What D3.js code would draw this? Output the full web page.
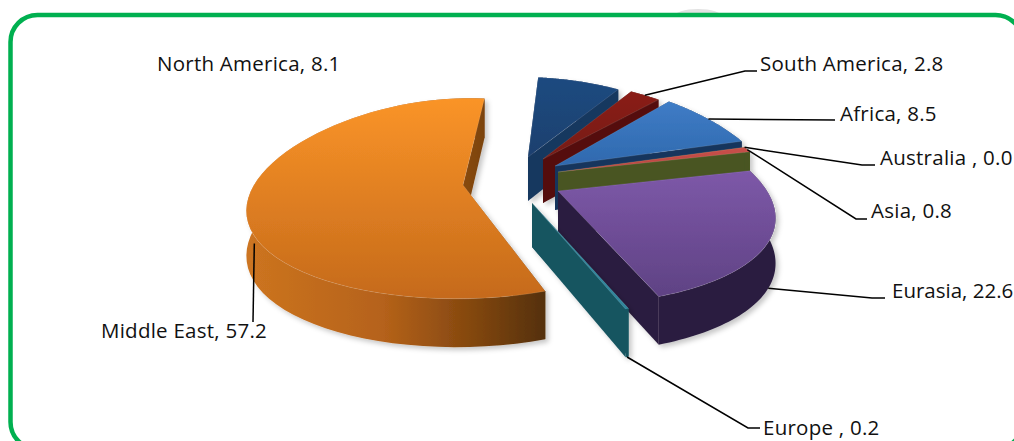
<!DOCTYPE html>
<html>
<head>
<meta charset="utf-8">
<script src="https://cdn.jsdelivr.net/npm/d3@7"></script>
<style>
  html, body { margin: 0; padding: 0; background: #fff; overflow: hidden; }
  text { font-family: "Open Sans", sans-serif; font-size: 20.5px; letter-spacing: 0.25px; fill: #111; white-space: pre; }
</style>
</head>
<body>
<svg id="chart" width="1014" height="441"></svg>
<script>
var categories = ['North America', 'South America', 'Africa', 'Australia ', 'Asia', 'Eurasia', 'Europe ', 'Middle East'];
var values = [8.1, 2.8, 8.5, 0.0, 0.8, 22.6, 0.2, 57.2];

// fake 3d settings
var R = 209, squash = 0.48, perspX = 0.25, perspY = 0.134, depth = 44;
var vanishX = 500, vanishPull = 0.7;
var firstAngle = 5.5 * Math.PI / 180;

// where each exploded slice has its tip, and how it is painted
var sliceStyle = {
  'North America': {tip: [528, 157], ys: 0.92, top: ['#1e4a80', '#1c406e'], wall: '#17375e'},
  'South America': {tip: [543, 159], ys: 0.92, top: ['#8a1e16', '#761913'], wall: '#541110'},
  'Africa':        {tip: [555, 166], ys: 1, top: ['#3f7cc6', '#2f69ae'], wall: '#17365d'},
  'Australia ':    {tip: [558, 172], ys: 1, top: ['#c0504d', '#c0504d'], wall: '#4f6228'},
  'Asia':          {tip: [558, 172], ys: 1, top: ['#c8504a', '#b8453f'], wall: '#485520'},
  'Eurasia':       {tip: [558, 191], ys: 1, top: ['#7d58a8', '#5f4284'], wall: '#2c1e40'},
  'Europe ':       {tip: [532, 203], ys: 1, top: ['#31859c', '#31859c'], wall: '#175561'},
  'Middle East':   {tip: [463, 185], ys: 1, top: ['#fa9428', '#c56a1b'], wall: 'url(#meWall)'}
};

// label position, elbow (optional), and where the leader leaves the slice
var labelPos = {
  'North America': {x: 157, y: 71},
  'South America': {x: 760, y: 71, end: [757, 71], elbow: [745, 71]},
  'Africa':        {x: 840, y: 121, end: [835, 120]},
  'Australia ':    {x: 880, y: 165, end: [875, 165], elbow: [862, 165]},
  'Asia':          {x: 871, y: 218, end: [867, 219], elbow: [856, 219]},
  'Eurasia':       {x: 892, y: 298, end: [885, 298], elbow: [872, 298], onWall: true, tight: true},
  'Europe ':       {x: 763, y: 435, end: [760, 428], elbow: [748, 428], onWall: true},
  'Middle East':   {x: 101, y: 338, end: [253, 322], onWall: true, nudge: [6, 1]}
};

var svg = d3.select('#chart');
var defs = svg.append('defs');

function project(tip, angle, rr, ys) {
  var X = Math.sin(angle) * rr, Y = -Math.cos(angle) * rr;
  var k = 1 + perspX * Y, ky = 1 + perspY * Y;
  var pull = (tip[0] - vanishX) * (k - 1) * vanishPull;
  return [tip[0] + X * R * k + pull, tip[1] + Y * R * squash * ky * ys];
}
function drop(p, Y) {
  return [p[0], p[1] + depth * (1 + 0.1 * Y)];
}

var pie = d3.pie().sort(null).value(function(d) { return d; })
  .startAngle(firstAngle).endAngle(firstAngle + 2 * Math.PI);
var arcs = pie(values);
var line = d3.line();

function rimAngles(a) {
  return d3.range(0, 61).map(function(i) { return a.startAngle + (a.endAngle - a.startAngle) * i / 60; });
}

categories.forEach(function(name, i) {
  var st = sliceStyle[name];
  var g = defs.append('linearGradient').attr('id', 'top' + i)
    .attr('x1', 0).attr('y1', 0).attr('x2', 0).attr('y2', 1);
  g.append('stop').attr('offset', '0%').attr('stop-color', st.top[0]);
  g.append('stop').attr('offset', '100%').attr('stop-color', st.top[1]);
});

var meWall = defs.append('linearGradient').attr('id', 'meWall')
  .attr('gradientUnits', 'userSpaceOnUse')
  .attr('x1', 250).attr('y1', 0).attr('x2', 546).attr('y2', 0);
[['0%', '#cc7420'], ['45%', '#b5621a'], ['75%', '#83470f'], ['100%', '#54300a']].forEach(function(s) {
  meWall.append('stop').attr('offset', s[0]).attr('stop-color', s[1]);
});

var shadow = defs.append('filter').attr('id', 'soft')
  .attr('x', '-10%').attr('y', '-10%').attr('width', '125%').attr('height', '125%');
shadow.append('feDropShadow').attr('dx', 3).attr('dy', 3).attr('stdDeviation', 2.5)
  .attr('flood-color', '#000').attr('flood-opacity', 0.22);

// faint smudge poking out above the frame
svg.append('ellipse')
  .attr('cx', 698).attr('cy', 17).attr('rx', 24).attr('ry', 8)
  .attr('fill', '#e2e2e2');

// frame
svg.append('rect')
  .attr('x', 10.5).attr('y', 15).attr('width', 1012).attr('height', 434)
  .attr('rx', 27).attr('ry', 27)
  .attr('fill', '#fff').attr('stroke', '#00b050').attr('stroke-width', 4.5);

// slices, painted back to front in pie order
var slices = svg.selectAll('g.slice').data(arcs).enter().append('g')
  .attr('class', 'slice')
  .attr('filter', 'url(#soft)');

slices.each(function(a, i) {
  if (a.value === 0) return;
  var st = sliceStyle[categories[i]];
  var node = d3.select(this);
  var angles = rimAngles(a);
  var rim = angles.map(function(t) { return project(st.tip, t, 1, st.ys); });
  var rimLow = angles.map(function(t, j) { return drop(rim[j], -Math.cos(t)); });
  var tipLow = drop(st.tip, 0);

  // radial walls
  [0, rim.length - 1].forEach(function(j) {
    node.append('path')
      .attr('d', line([st.tip, rim[j], rimLow[j], tipLow]) + 'Z')
      .attr('fill', st.wall);
  });
  // outer wall
  node.append('path')
    .attr('d', line(rim.concat(rimLow.slice().reverse())) + 'Z')
    .attr('fill', st.wall);
  // top face
  node.append('path')
    .attr('d', line([st.tip].concat(rim)) + 'Z')
    .attr('fill', 'url(#top' + i + ')')
    .attr('stroke', 'rgba(255,255,255,0.14)')
    .attr('stroke-width', 0.8);
});

// leaders
var leaders = svg.append('g');
arcs.forEach(function(a, i) {
  var name = categories[i], lp = labelPos[name], st = sliceStyle[name];
  if (!lp.end) return;
  var mid = (a.startAngle + a.endAngle) / 2;
  var start = project(st.tip, mid, 1, st.ys);
  if (lp.onWall) start = drop(start, -Math.cos(mid));
  if (lp.nudge) start = [start[0] + lp.nudge[0], start[1] + lp.nudge[1]];
  var pts = [start];
  if (lp.elbow) pts.push(lp.elbow);
  pts.push(lp.end);
  leaders.append('path').attr('d', line(pts))
    .attr('fill', 'none').attr('stroke', '#000').attr('stroke-width', 1.5);
});

// labels
svg.selectAll('text.lab').data(categories).enter().append('text')
  .attr('class', 'lab')
  .attr('x', function(d) { return labelPos[d].x; })
  .attr('y', function(d) { return labelPos[d].y; })
  .style('letter-spacing', function(d) { return labelPos[d].tight ? '0px' : null; })
  .text(function(d, i) { return d + ', ' + values[i].toFixed(1); });
</script>
</body>
</html>
